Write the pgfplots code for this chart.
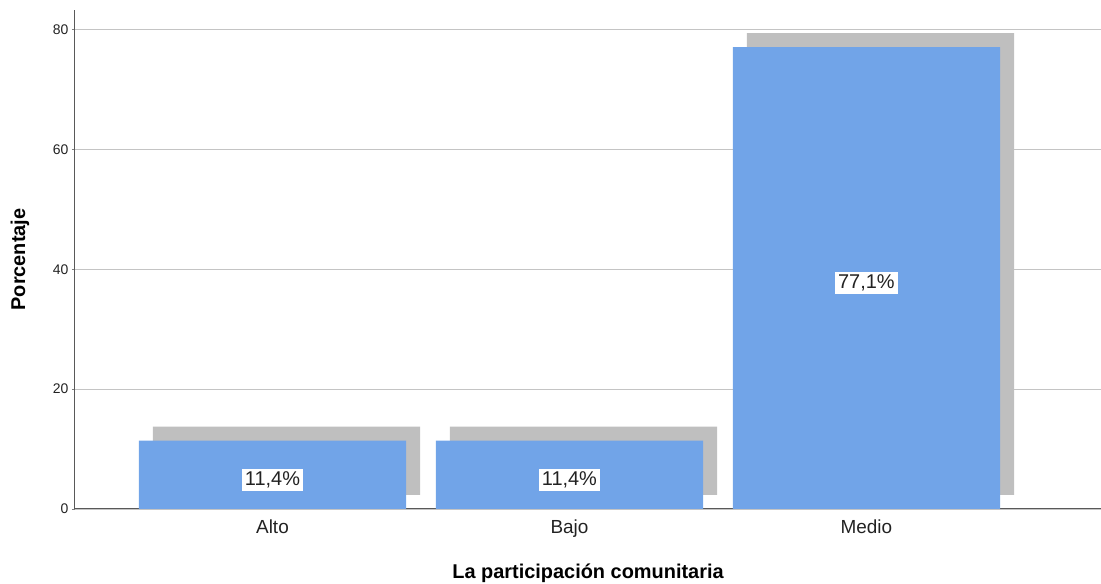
\documentclass[border=0pt]{standalone}
\usepackage{pgfplots}
\pgfplotsset{compat=1.18}
\usepackage{pgfplotstable}
\usetikzlibrary{calc}
\usepackage{fontspec}
\setmainfont{Liberation Sans}
\definecolor{barblue}{HTML}{71A4E8}
\definecolor{shadowgray}{HTML}{BFBFBF}
\definecolor{gridgray}{HTML}{C4C4C4}
\definecolor{txt}{HTML}{222222}

\pgfplotstableread{
x v lab
0 11.4 {11,4\%}
1 11.4 {11,4\%}
2 77.1 {77,1\%}
}\data

\begin{document}
\begin{tikzpicture}[x=1bp,y=1bp]
\begin{axis}[
    scale only axis,
    width=1026bp, height=499bp,
    xmin=-0.665, xmax=2.79,
    ymin=0, ymax=83.3,
    axis x line*=bottom, axis y line*=left,
    axis line style={draw=gray!70!black, line width=1bp},
    xtick=data, xticklabels={Alto,Bajo,Medio},
    x tick label style={font=\fontsize{19}{22}\selectfont, text=txt, yshift=-4bp},
    major x tick style={draw=none},
    ytick={0,20,40,60,80},
    y tick label style={font=\fontsize{14}{16}\selectfont, text=txt},
    /pgf/number format/assume math mode=true,
    major y tick style={draw=gray, line width=0.8bp},
    tick align=outside, major tick length=3bp,
    ymajorgrids, grid style={gridgray, line width=1.3bp},
    xlabel={\bfseries La participación comunitaria},
    ylabel={\bfseries Porcentaje},
    xlabel style={font=\fontsize{20}{22}\selectfont, at={(axis description cs:0.5,0)}, anchor=center, yshift=-64bp},
    ylabel style={font=\fontsize{20}{22}\selectfont, at={(axis description cs:0,0.5)}, anchor=center, yshift=55bp},
    bar width=0.9,
]
\addplot[ybar, bar shift=0, fill=shadowgray, draw=none, xshift=14bp, yshift=14bp]
    table[x=x, y=v] {\data};
\addplot[ybar, bar shift=0, fill=barblue, draw=none]
    table[x=x, y=v] {\data};
\addplot[draw=none, mark=none,
    nodes near coords, point meta=explicit symbolic,
    every node near coord/.append style={anchor=center, fill=white, inner sep=3bp, yshift=-5bp,
        font=\fontsize{20}{22}\selectfont, text=txt}]
    table[x=x, y expr=\thisrow{v}/2, meta=lab] {\data};
\end{axis}
\pgfresetboundingbox
\useasboundingbox ($(current axis.south west)+(-75bp,-75bp)$) rectangle ($(current axis.north east)+(0,10bp)$);
\end{tikzpicture}
\end{document}
